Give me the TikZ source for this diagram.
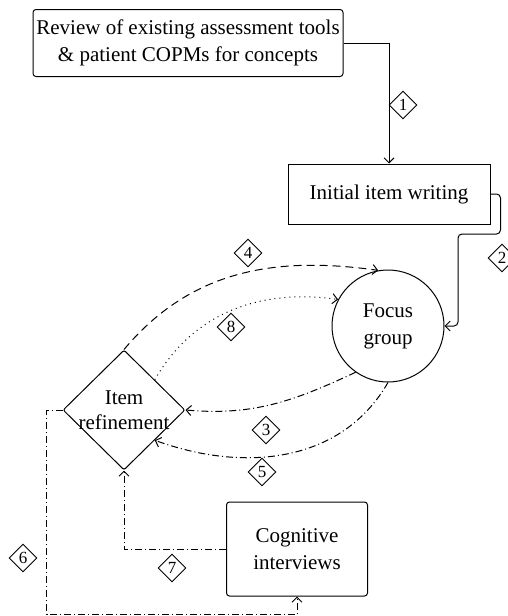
\documentclass[tikz,border=0pt]{standalone}
\usepackage{fontspec}
\setmainfont{Liberation Serif}
\usetikzlibrary{shapes.geometric,arrows.meta}

\begin{document}
\begin{tikzpicture}[x=1pt,y=1pt,line width=1pt,>={Straight Barb[length=5pt,width=10pt]}]

\tikzset{%
  stage/.style    = {draw,rounded corners=3pt,align=center,font=\fontsize{21}{27}\selectfont},
  tag/.style      = {draw,diamond,inner sep=0pt,minimum size=28pt,line width=0.9pt,font=\fontsize{17}{17}\selectfont},
  flow/.style     = {->},
  loop/.style     = {->,dash pattern=on 8pt off 5pt},
  probe/.style    = {->,dash pattern=on 1pt off 4pt},
  back/.style     = {->,dash pattern=on 7pt off 3pt on 1pt off 3pt},
}

\useasboundingbox (0,0) rectangle (508,-616);

% Stages
\node[stage,minimum width=310pt,minimum height=67pt] (review) at (188,-43)
  {Review of existing assessment tools\\ \& patient COPMs for concepts};
\node[stage,rounded corners=0pt,minimum width=202pt,minimum height=60pt] (initial) at (389,-194)
  {Initial item writing};
\node[stage,circle,minimum size=112pt,inner sep=0pt] (focus) at (388,-326) {Focus\\group};
\node[draw,diamond,minimum width=122pt,minimum height=120pt,inner sep=0pt,rounded corners=2pt] (refine) at (124,-410) {};
\node[align=center,font=\fontsize{21}{25}\selectfont] at (refine) {Item\\refinement};
\node[stage,minimum width=141pt,minimum height=94pt] (cog) at (297,-549) {Cognitive\\interviews};

\coordinate (bend2) at (458,-234); % step down to focus group

% Step 1 and 2
\draw[flow] (review.east) -| (initial.north);
\draw[flow,rounded corners=4pt] (initial.east) -- ++(10,0) |- (bend2) |- (focus.east);

% Loops between focus group and item refinement
\draw[loop]  (refine.north) to[out=50,in=172] (focus.100);
\draw[probe] (refine.north east) to[out=60,in=172] (focus.152);
\draw[back]  (focus.235) to[out=205,in=-5] (refine.east);
\draw[back]  (focus.south) to[out=240,in=-20] (refine.south east);

% Cognitive interviews
\draw[back] (cog.west) -| (refine.south);
\draw[back] (refine.west) -- ++(-16,0) |- ([yshift=-18pt]cog.south) -- (cog.south);

% Step numbers
\node[tag] (n1) at (403,-105) {1};
\node[tag] (n2) at (502,-258) {2};
\node[tag] (n3) at (266,-430) {3};
\node[tag] (n4) at (248,-253) {4};
\node[tag] (n5) at (262,-472) {5};
\node[tag] (n6) at (23,-558)  {6};
\node[tag] (n7) at (172,-568) {7};
\node[tag] (n8) at (231,-327) {8};

\end{tikzpicture}
\end{document}
